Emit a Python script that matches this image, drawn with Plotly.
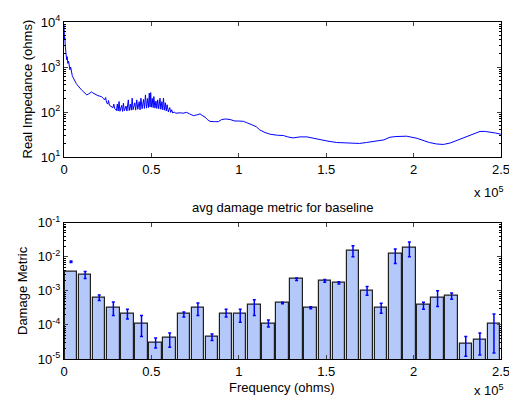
import plotly.graph_objects as go

# ---------------- data ----------------
# top panel: real impedance vs frequency (frequency in units of 1e5)
imp_freq = [0.0, 0.001, 0.003, 0.005, 0.007, 0.01, 0.012, 0.015, 0.018, 0.022, 0.026, 0.03, 0.034, 0.038,
            0.042, 0.047, 0.053, 0.058, 0.063, 0.07, 0.076, 0.082, 0.09, 0.10, 0.11, 0.12, 0.13, 0.14,
            0.15, 0.158, 0.165, 0.175, 0.187, 0.195, 0.205, 0.216, 0.225, 0.232, 0.238, 0.244, 0.25,
            0.255, 0.26, 0.265, 0.273, 0.28, 0.285,
            0.29, 0.30, 0.305, 0.31, 0.315, 0.32, 0.33, 0.335, 0.34, 0.345, 0.355, 0.36, 0.368, 0.373,
            0.38, 0.385, 0.39, 0.395, 0.405, 0.41, 0.416, 0.422, 0.43, 0.435, 0.44, 0.447, 0.455, 0.46,
            0.466, 0.472, 0.478, 0.483, 0.488, 0.492, 0.496, 0.50, 0.505, 0.51, 0.514, 0.52, 0.526,
            0.531, 0.536, 0.542, 0.549, 0.554, 0.56, 0.565, 0.569, 0.575, 0.58, 0.585, 0.59, 0.597,
            0.605, 0.61, 0.616, 0.622, 0.63, 0.64, 0.655,
            0.664, 0.68, 0.702, 0.72, 0.74, 0.76, 0.778, 0.79, 0.807, 0.82, 0.835, 0.86, 0.883, 0.902,
            0.925, 0.95, 0.978, 1.0, 1.026, 1.045, 1.064, 1.08, 1.10, 1.12, 1.15, 1.18, 1.22, 1.255,
            1.28, 1.31, 1.35, 1.39, 1.43, 1.465, 1.51, 1.56, 1.62, 1.69, 1.73, 1.77, 1.83, 1.865, 1.9,
            1.96, 2.0, 2.02, 2.06, 2.09, 2.13, 2.17, 2.21, 2.25, 2.285, 2.33, 2.38, 2.41, 2.44, 2.47, 2.5]
imp_ohms = [9000, 6000, 4000, 4500, 3000, 2000, 2400, 1450, 1700, 1200, 1350, 950, 870, 1000,
            720, 650, 575, 520, 470, 430, 400, 370, 340, 310, 285, 260, 240, 250,
            270, 280, 265, 250, 240, 230, 225, 218, 200, 185, 210, 160, 150,
            180, 140, 135, 132, 125, 150,
            120, 108, 150, 105, 171, 104, 140, 103, 157, 106, 135, 105, 186, 108,
            150, 110, 203, 112, 160, 110, 186, 115, 170, 112, 203, 118, 190, 120,
            240, 122, 200, 125, 263, 130, 270, 128, 200, 125, 220, 122, 175,
            120, 186, 118, 203, 115, 170, 112, 203, 110, 160, 105, 145, 100,
            125, 98, 112, 95, 100, 94, 96,
            96, 94, 98, 90, 83, 86, 91, 84, 77, 68, 62, 61, 61, 68,
            70, 68, 63, 63, 62, 58, 55, 51, 47, 40, 35, 32, 30.5, 30,
            28, 26.5, 28, 28, 26, 24, 22.5, 21, 20.5, 20, 21, 22, 24, 27.5, 28.5,
            29, 27.5, 26, 23, 21, 19.5, 19, 20.5, 23.5, 27, 31, 37, 37, 36, 34, 32]

# bottom panel: average damage metric per frequency bin (bin centres in units of 1e5)
bin_centers = [0.0403, 0.1210, 0.2016, 0.2823, 0.3629, 0.4435, 0.5242, 0.6048, 0.6855, 0.7661,
               0.8468, 0.9274, 1.0081, 1.0887, 1.1694, 1.2500, 1.3306, 1.4113, 1.4919, 1.5726,
               1.6532, 1.7339, 1.8145, 1.8952, 1.9758, 2.0565, 2.1371, 2.2177, 2.2984, 2.3790, 2.4597]
damage = [3.7e-3, 2.9e-3, 6.1e-4, 3.3e-4, 2.2e-4, 1.1e-4, 3.1e-5, 4.1e-5, 2.1e-4, 3.1e-4,
          4.4e-5, 2.2e-4, 2.1e-4, 3.8e-4, 1.1e-4, 4.4e-4, 2.2e-3, 3.2e-4, 1.96e-3, 1.7e-3,
          1.5e-2, 1.0e-3, 3.1e-4, 1.2e-2, 1.9e-2, 3.8e-4, 6.5e-4, 7.1e-4, 2.9e-5, 3.7e-5, 1.1e-4]
err_hi = [7.5e-3, 3.7e-3, 7.6e-4, 4.7e-4, 2.9e-4, 1.9e-4, 4.1e-5, 5.8e-5, 2.4e-4, 4.4e-4,
          5.4e-5, 2.9e-4, 2.9e-4, 5.5e-4, 1.4e-4, 4.6e-4, 2.4e-3, 3.4e-4, 2.15e-3, 1.85e-3,
          2.1e-2, 1.35e-3, 4.3e-4, 1.7e-2, 2.7e-2, 4.6e-4, 1.0e-3, 8.6e-4, 4.6e-5, 5.8e-5, 2.1e-4]
err_lo = [6.8e-3, 2.3e-3, 5.2e-4, 1.9e-4, 1.5e-4, 4.6e-5, 2.1e-5, 2.2e-5, 1.7e-4, 1.9e-4,
          3.5e-5, 1.7e-4, 1.2e-4, 1.9e-4, 8.7e-5, 4.2e-4, 2.0e-3, 3.0e-4, 1.8e-3, 1.6e-3,
          1.0e-2, 7.4e-4, 2.2e-4, 6.4e-3, 1.0e-2, 2.9e-4, 3.5e-4, 5.7e-4, 1.2e-5, 1.3e-5, 1.5e-5]

x_ticks = [0, 0.5, 1, 1.5, 2, 2.5]
x_ticktext = ["0", "0.5", "1", "1.5", "2", "2.5"]
top_decades = [10, 100, 1000, 10000]
top_decade_text = ["10<sup>1</sup>", "10<sup>2</sup>", "10<sup>3</sup>", "10<sup>4</sup>"]
bot_decades = [1e-5, 1e-4, 1e-3, 1e-2, 1e-1]
bot_decade_text = ["10<sup>-5</sup>", "10<sup>-4</sup>", "10<sup>-3</sup>", "10<sup>-2</sup>", "10<sup>-1</sup>"]

# ---------------- figure ----------------
W, H = 509, 399
FONT = "Liberation Sans"

def px_x(p):
    return p / W

def px_y(p):
    return 1 - p / H

fig = go.Figure()

fig.add_trace(go.Scatter(x=imp_freq, y=imp_ohms, mode="lines",
                         line=dict(color="#0000FF", width=1), xaxis="x", yaxis="y",
                         hoverinfo="skip"))

fig.add_trace(go.Bar(x=bin_centers, y=damage, xaxis="x2", yaxis="y2",
                     marker=dict(color="rgb(180,200,250)", line=dict(color="#202020", width=1.2)),
                     width=0.0715))

err_plus = [h - l for h, l in zip(err_hi, err_lo)]
fig.add_trace(go.Scatter(x=bin_centers, y=err_lo, mode="markers", xaxis="x2", yaxis="y2",
                         marker=dict(size=0.1, color="#0000FF"),
                         error_y=dict(type="data", symmetric=False, array=err_plus,
                                      arrayminus=[0] * len(err_lo), color="#0000FF",
                                      thickness=1.5, width=1.5)))

def minor_vals(lo_exp, hi_exp):
    vals = []
    for e in range(lo_exp, hi_exp):
        for m in range(2, 10):
            vals.append(m * 10 ** e)
    return vals

xcommon = dict(range=[0, 2.5], tickvals=x_ticks, ticktext=x_ticktext, ticks="inside",
               ticklen=4, showline=True, linecolor="black", linewidth=1, mirror="allticks",
               showgrid=False, zeroline=False, tickfont=dict(size=13, family=FONT, color="black"),
               automargin=False, ticklabeloverflow="allow")

fig.update_layout(
    width=W, height=H,
    margin=dict(l=0, r=0, t=0, b=0),
    paper_bgcolor="white", plot_bgcolor="white",
    showlegend=False,
    bargap=0,
    font=dict(family=FONT, size=13, color="black"),
    xaxis=dict(domain=[px_x(64), px_x(501)], anchor="y", **xcommon),
    yaxis=dict(domain=[px_y(157), px_y(22)], anchor="x", type="log", range=[1, 4],
               tickvals=top_decades, ticktext=top_decade_text, ticks="inside", ticklen=4,
               showline=True, linecolor="black", linewidth=1, mirror="allticks",
               showgrid=False, zeroline=False, automargin=False,
               tickfont=dict(size=13, family=FONT, color="black"),
               minor=dict(ticks="inside", ticklen=2, tickvals=minor_vals(1, 4),
                          tickcolor="black", showgrid=False)),
    xaxis2=dict(domain=[px_x(64), px_x(501)], anchor="y2", **xcommon),
    yaxis2=dict(domain=[px_y(359), px_y(222.7)], anchor="x2", type="log", range=[-5, -1],
                tickvals=bot_decades, ticktext=bot_decade_text, ticks="inside", ticklen=4,
                showline=True, linecolor="black", linewidth=1, mirror="allticks",
                showgrid=False, zeroline=False, automargin=False,
                tickfont=dict(size=13, family=FONT, color="black"),
                minor=dict(ticks="inside", ticklen=2, tickvals=minor_vals(-5, -1),
                           tickcolor="black", showgrid=False)),
)

ann = dict(showarrow=False, xref="paper", yref="paper", borderpad=0,
           font=dict(size=13, family=FONT, color="black"))
fig.add_annotation(text="Real Impedance (ohms)", x=px_x(27), y=px_y(89.5), textangle=-90,
                   xanchor="center", yanchor="middle", **ann)
fig.add_annotation(text="Damage Metric", x=px_x(22), y=px_y(291), textangle=-90,
                   xanchor="center", yanchor="middle", **ann)
fig.add_annotation(text="avg damage metric for baseline", x=px_x(282.5), y=px_y(207),
                   xanchor="center", yanchor="middle", **ann)
fig.add_annotation(text="Frequency (ohms)", x=px_x(281), y=px_y(387),
                   xanchor="center", yanchor="middle", **ann)
fig.add_annotation(text="x 10<sup>5</sup>", x=px_x(473), y=px_y(192),
                   xanchor="left", yanchor="middle", **ann)
fig.add_annotation(text="x 10<sup>5</sup>", x=px_x(473), y=px_y(390),
                   xanchor="left", yanchor="middle", **ann)

fig.write_html("out.html")
